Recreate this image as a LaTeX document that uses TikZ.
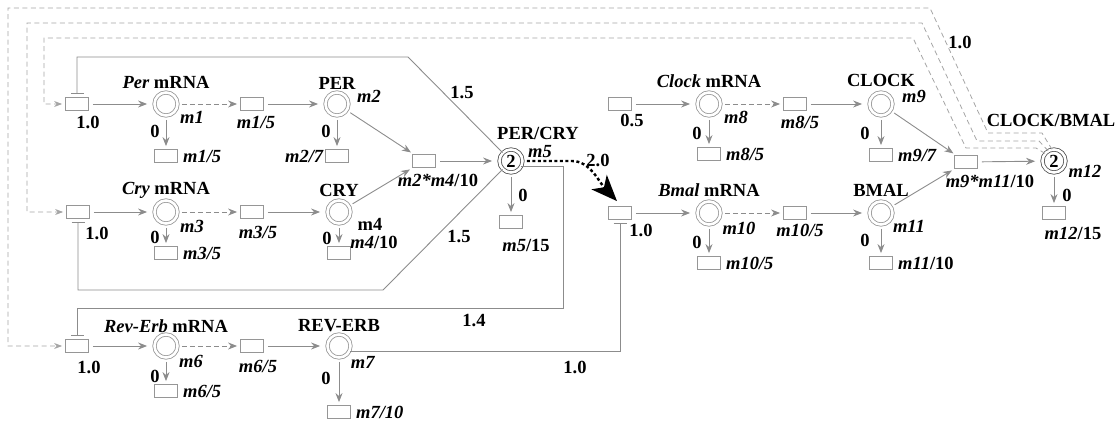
\documentclass[tikz,border=0pt]{standalone}
\usepackage{fontspec}
\setmainfont{Liberation Serif}
\usetikzlibrary{arrows.meta,calc}

\definecolor{linegray}{RGB}{140,140,140}
\definecolor{fbgray}{RGB}{165,165,165}
\definecolor{ringgray}{RGB}{150,150,150}
\definecolor{ringdark}{RGB}{80,80,80}

\tikzset{
  lc/.style={draw=linegray, line width=0.9pt},
  sp/.style={circle, draw=ringgray, double=white, double distance=2.6pt,
    line width=0.8pt, minimum size=23pt, inner sep=0pt},
  cx/.style={sp, draw=ringdark},
  bx/.style={rectangle, draw=ringgray, fill=white, line width=0.8pt,
    minimum width=23pt, minimum height=13pt, inner sep=0pt},
  lab/.style={inner sep=0pt},
  ar/.style={lc, -{Stealth[length=9pt,width=7pt]}},
  dar/.style={ar, dash pattern=on 5pt off 3pt},
  inh/.style={lc, -{Bar[width=13pt]}},
  fb/.style={draw=fbgray, line width=0.8pt, dash pattern=on 5pt off 3.5pt,
    -{Stealth[length=8pt,width=6pt]}, shorten >=3pt},
  heavy/.style={draw=black, line width=2.4pt, dash pattern=on 3pt off 2.5pt,
    -{Stealth[length=26pt,width=21pt,inset=7pt]}},
  fromC/.style={shorten <=4pt},
  toC/.style={shorten >=7pt},
  fromB/.style={shorten <=4pt},
  toB/.style={shorten >=3pt}
}

\begin{document}
\begin{tikzpicture}[x=1pt,y=-1pt,font=\fontsize{18.5}{21}\selectfont\bfseries]
\useasboundingbox (0,0) rectangle (1119,425);

% ---- species and reaction boxes ----
% Per
\node[bx] (s1) at (77,104) {};
\node[sp] (m1) at (166,104) {};
\node[bx] (t1) at (252,104) {};
\node[sp] (m2) at (337,104) {};
\node[bx] (d1) at (166,156) {};
\node[bx] (d2) at (337,156) {};
% Cry
\node[bx] (s3) at (78,212) {};
\node[sp] (m3) at (166,212) {};
\node[bx] (t3) at (252,212) {};
\node[sp] (m4) at (339,212) {};
\node[bx] (d3) at (166,253) {};
\node[bx] (d4) at (339,253) {};
% PER/CRY complex
\node[cx] (m5) at (511,161) {2};
\node[bx] (c1) at (424,161) {};
\node[bx] (d5) at (511,222) {};
% Rev-Erb
\node[bx] (s6) at (77,346) {};
\node[sp] (m6) at (166,346) {};
\node[bx] (t6) at (252,346) {};
\node[sp] (m7) at (339,346) {};
\node[bx] (d6) at (166,391) {};
\node[bx] (d7) at (339,412) {};
% Clock
\node[bx] (s8) at (620,104) {};
\node[sp] (m8) at (709,104) {};
\node[bx] (t8) at (795,104) {};
\node[sp] (m9) at (881,104) {};
\node[bx] (d8) at (709,154) {};
\node[bx] (d9) at (881,155) {};
% Bmal
\node[bx] (s10) at (620,213) {};
\node[sp] (m10) at (709,213) {};
\node[bx] (t10) at (795,213) {};
\node[sp] (m11) at (881,213) {};
\node[bx] (d10) at (709,263) {};
\node[bx] (d11) at (881,263) {};
% CLOCK/BMAL complex
\node[bx] (c2) at (966,162) {};
\node[cx] (m12) at (1054,161) {2};
\node[bx] (d12) at (1054,213) {};

% ---- reactions ----
\foreach \s/\m/\t/\p in {s1/m1/t1/m2, s3/m3/t3/m4, s6/m6/t6/m7, s8/m8/t8/m9, s10/m10/t10/m11}{
  \draw[ar,fromB,toC] (\s) -- (\m);
  \draw[dar,fromC,toB] (\m) -- (\t);
  \draw[ar,fromB,toC] (\t) -- (\p);
}
\foreach \m/\d in {m1/d1, m2/d2, m3/d3, m4/d4, m5/d5, m6/d6, m7/d7, m8/d8, m9/d9, m10/d10, m11/d11, m12/d12}{
  \draw[ar,fromC,toB] (\m) -- (\d);
}
\draw[ar,fromC,toB] (m2) -- (c1);
\draw[ar,fromC,toB] (m4) -- (c1);
\draw[ar,fromB,toC] (c1) -- (m5);
\draw[ar,fromC,toB] (m9) -- (c2);
\draw[ar,fromC,toB] (m11) -- (c2);
\draw[ar,fromB,toC] (c2) -- (m12);

% ---- inhibitions ----
\coordinate (k2) at (408,57);
\coordinate (k3) at (383,290);
\coordinate (k1) at (563,308);
\draw[inh] (m5.135) -- (k2) -| ($(s1.north)+(0,-3)$);
\draw[inh] (m5.225) -- (k3) -| ($(s3.south)+(0,3)$);
\draw[inh] (m5.-30) -| (k1) -| ($(s6.north)+(0,-3)$);
\draw[inh] (m7.-25) -| ($(s10.south)+(0,3)$);

% ---- activation of Bmal transcription ----
\draw[heavy,shorten <=4pt] (m5.east) -- (572,161)
  .. controls (590,161) and (599,182) .. ($(s10.north)+(-3,-5)$);

% ---- CLOCK/BMAL feedback ----
\draw[fb] (m12.100) -- (1042,133) -- (988,133) -- (930,8) -- (8,8) |- (s6.west);
\draw[fb] (m12.120) -- (1039,141) -- (977,141) -- (922,23) -- (27,23) |- (s3.west);
\draw[fb] (m12.140) -- (1036,148) -- (966,148) -- (913,38) -- (44,38) |- (s1.west);

% ---- labels ----
\node[lab] (nPer) at (166,82) {\textit{Per} mRNA};
\node[lab] (nPER) at (337,83) {PER};
\node[lab] (r15a) at (462,93) {1.5};
\node[lab] (nm1) at (192,117) {\textit{m1}};
\node[lab] (r1) at (88,122) {1.0};
\node[lab] (nt1) at (256,122) {\textit{m1/5}};
\node[lab] (nm2) at (369,96) {\textit{m2}};
\node[lab] (z1) at (155,131) {0};
\node[lab] (z2) at (326,131) {0};
\node[lab,anchor=west] (nd1) at (183,156) {\textit{m1/5}};
\node[lab,anchor=east] (nd2) at (324,156) {\textit{m2/7}};
\node[lab] (nc1) at (438,180) {\textit{m2*m4}/10};
\node[lab] (nPC) at (538,133) {PER/CRY};
\node[lab] (nm5) at (540,152) {\textit{m5}};
\node[lab] (z5) at (523,195) {0};
\node[lab] (nd5) at (526,245) {\textit{m5}/15};
\node[lab] (r20) at (598,160) {2.0};

\node[lab] (nCry) at (166,190) {\textit{Cry} mRNA};
\node[lab] (nCRY) at (339,190) {CRY};
\node[lab] (nm3) at (192,226) {\textit{m3}};
\node[lab] (r3) at (97,233) {1.0};
\node[lab] (nt3) at (258,232) {\textit{m3/5}};
\node[lab] (nm4) at (370,224) {m4};
\node[lab] (z3) at (155,237) {0};
\node[lab,anchor=west] (nd3) at (183,253) {\textit{m3/5}};
\node[lab] (z4) at (327,238) {0};
\node[lab] (nd4) at (374,242) {\textit{m4}/10};
\node[lab] (r15b) at (459,237) {1.5};
\node[lab] (r14) at (474,321) {1.4};

\node[lab] (nRev) at (166,326) {\textit{Rev-Erb} mRNA};
\node[lab] (nREV) at (339,326) {REV-ERB};
\node[lab] (r6) at (89,367) {1.0};
\node[lab] (nm6) at (191,361) {\textit{m6}};
\node[lab] (nt6) at (258,366) {\textit{m6/5}};
\node[lab] (nm7) at (363,362) {\textit{m7}};
\node[lab] (z6) at (155,376) {0};
\node[lab,anchor=west] (nd6) at (183,391) {\textit{m6/5}};
\node[lab] (z7) at (326,378) {0};
\node[lab,anchor=west] (nd7) at (356,412) {\textit{m7/10}};
\node[lab] (r10) at (575,367) {1.0};

\node[lab] (nClock) at (709,81) {\textit{Clock} mRNA};
\node[lab] (nCLOCK) at (881,80) {CLOCK};
\node[lab] (r8) at (632,120) {0.5};
\node[lab] (nm8) at (736,117) {\textit{m8}};
\node[lab] (nt8) at (800,122) {\textit{m8/5}};
\node[lab] (nm9) at (914,96) {\textit{m9}};
\node[lab] (z8) at (697,133) {0};
\node[lab,anchor=west] (nd8) at (726,154) {\textit{m8/5}};
\node[lab] (z9) at (865,133) {0};
\node[lab,anchor=west] (nd9) at (898,155) {\textit{m9/7}};
\node[lab] (nc2) at (990,181) {\textit{m9*m11}/10};
\node[lab] (nCB) at (1051,120) {CLOCK/BMAL};
\node[lab] (nm12) at (1085,171) {\textit{m12}};
\node[lab] (z12) at (1067,195) {0};
\node[lab] (nd12) at (1073,233) {\textit{m12}/15};
\node[lab] (rfb) at (960,42) {1.0};

\node[lab] (nBmal) at (709,190) {\textit{Bmal} mRNA};
\node[lab] (nBMAL) at (881,190) {BMAL};
\node[lab] (r11) at (641,230) {1.0};
\node[lab] (nm10) at (739,228) {\textit{m10}};
\node[lab] (nt10) at (800,230) {\textit{m10/5}};
\node[lab] (nm11) at (909,226) {\textit{m11}};
\node[lab] (z10) at (697,242) {0};
\node[lab,anchor=west] (nd10) at (726,263) {\textit{m10/5}};
\node[lab] (z11) at (865,240) {0};
\node[lab,anchor=west] (nd11) at (898,263) {\textit{m11}/10};
\end{tikzpicture}
\end{document}
